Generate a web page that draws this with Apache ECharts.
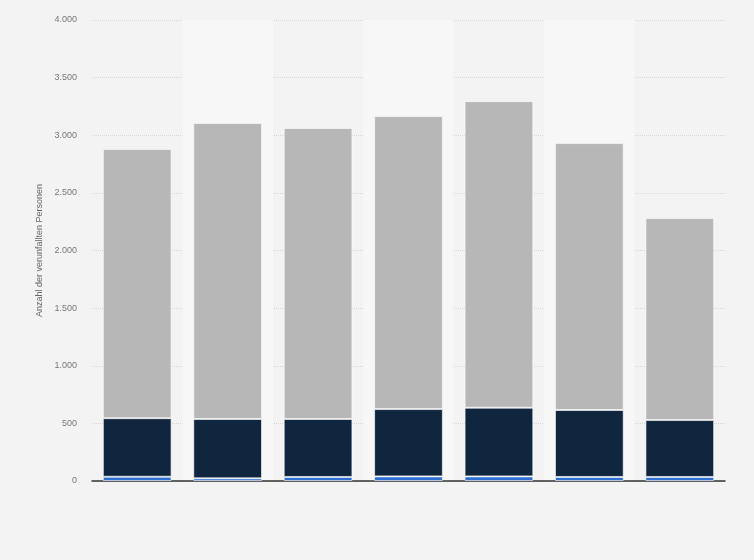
<!DOCTYPE html>
<html>
<head>
<meta charset="utf-8">
<script src="https://cdn.jsdelivr.net/npm/echarts@6/dist/echarts.min.js"></script>
<style>
  html, body { margin: 0; padding: 0; background: #f3f3f3; }
  #chart { width: 754px; height: 560px; }
</style>
</head>
<body>
<div id="chart"></div>
<script>
// bottom to top
var categories = ["1", "2", "3", "4", "5", "6", "7"];
var blueValues = [37, 23, 35, 40, 40, 35, 35];
var darkValues = [508, 515, 503, 584, 596, 581, 494];
var greyValues = [2336, 2568, 2525, 2542, 2660, 2316, 1752];

var CHART;

function fmt(v) {
  // german thousands separator
  return String(v).replace(/\B(?=(\d{3})+(?!\d))/g, ".");
}

function makeSeries(name, data, color) {
  return {
    name: name,
    type: "bar",
    stack: "total",
    barWidth: "76%",
    data: data,
    itemStyle: {
      color: color,
      borderColor: "rgba(255,255,255,0.6)",
      borderWidth: 1,
    },
  };
}

window.onload = (_) => {
  CHART = echarts.init(document.getElementById("chart"), null, { renderer: "canvas" });
  CHART.setOption({
    backgroundColor: "#f3f3f3",
    animation: false,
    grid: {
      left: 92,
      right: 29,
      top: 20,
      bottom: 79,
    },
    xAxis: {
      type: "category",
      data: categories,
      axisLine: { lineStyle: { color: "#333", width: 1.5 } },
      axisTick: { show: false },
      axisLabel: { show: false },
      splitArea: {
        show: true,
        areaStyle: { color: ["rgba(0,0,0,0)", "#f7f7f7"] },
      },
    },
    yAxis: {
      type: "value",
      min: 0,
      max: 4000,
      interval: 500,
      name: "Anzahl der verunfallten Personen",
      nameLocation: "middle",
      nameGap: 48,
      nameTextStyle: { color: "#666", fontSize: 9, fontFamily: "Liberation Sans" },
      axisLine: { show: false },
      axisTick: { show: false },
      axisLabel: {
        color: "#777",
        fontSize: 9,
        margin: 15,
        fontFamily: "Liberation Sans",
        formatter: fmt,
      },
      splitLine: { lineStyle: { color: "#d6d6d6", type: "dotted" } },
    },
    series: [
      makeSeries("blue", blueValues, "#2e6fd3"),
      makeSeries("dark", darkValues, "#10263e"),
      makeSeries("grey", greyValues, "#b7b7b7"),
    ],
  });
};
</script>
</body>
</html>
